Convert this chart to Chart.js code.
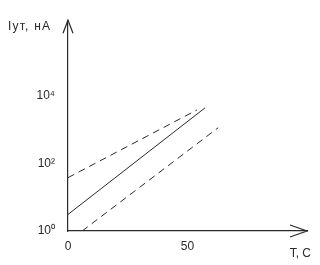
<!DOCTYPE html>
<html>
<head>
<meta charset="utf-8">
<script src="https://cdn.jsdelivr.net/npm/chart.js@4"></script>
<style>
html,body{margin:0;padding:0;background:#fff;}
#wrap{width:320px;height:265px;position:relative;}
</style>
</head>
<body>
<div id="wrap"><canvas id="c"></canvas></div>
<script>
// ---- data ----
const yTitle = 'Iут, нА';
const xTitle = 'T, C';
const xTickValues = [0, 50];
const yTickValues = [1, 100, 10000];
const yTickLabels = ['10⁰', '10²', '10⁴'];
const xMax = 100;
const yMin = 1;
const yMax = 1.75e6;

const upperT = [0, 54];
const upperI = [38, 3860];
const midT = [0, 57.3];
const midI = [3.1, 4420];
const lowerT = [5.9, 62.8];
const lowerI = [1, 1140];

const pts = (xs, ys) => xs.map((x, i) => ({x: x, y: ys[i]}));
const ink = '#2a2a2a';

const axisArrows = {
  id: 'axisArrows',
  afterDraw(chart) {
    const ctx = chart.ctx, a = chart.chartArea;
    ctx.save();
    ctx.strokeStyle = ink;
    ctx.lineWidth = 1.2;
    ctx.beginPath();
    ctx.moveTo(a.left - 5, a.top + 13);
    ctx.lineTo(a.left, a.top);
    ctx.lineTo(a.left + 5, a.top + 13);
    ctx.moveTo(a.right - 17, a.bottom - 6);
    ctx.lineTo(a.right, a.bottom);
    ctx.lineTo(a.right - 17, a.bottom + 6);
    ctx.stroke();
    ctx.fillStyle = ink;
    ctx.font = '12px "Liberation Sans", Arial, sans-serif';
    ctx.textBaseline = 'alphabetic';
    ctx.textAlign = 'left';
    ctx.letterSpacing = '1.2px';
    ctx.fillText(yTitle, 8, 30);
    ctx.letterSpacing = '0px';
    ctx.textAlign = 'right';
    ctx.fillText(xTitle, a.right + 4, a.bottom + 26);
    ctx.restore();
  }
};

new Chart(document.getElementById('c'), {
  type: 'line',
  data: {
    datasets: [
      {data: pts(upperT, upperI), borderColor: ink, borderWidth: 1, borderDash: [7, 5], pointRadius: 0},
      {data: pts(midT, midI), borderColor: ink, borderWidth: 1, pointRadius: 0},
      {data: pts(lowerT, lowerI), borderColor: ink, borderWidth: 1, borderDash: [7, 5], pointRadius: 0}
    ]
  },
  options: {
    responsive: true,
    maintainAspectRatio: false,
    animation: false,
    devicePixelRatio: 1,
    layout: {padding: {left: 0, top: 20, right: 13, bottom: 0}},
    plugins: {legend: {display: false}, tooltip: {enabled: false}, title: {display: false}},
    scales: {
      x: {
        type: 'linear',
        min: 0, max: xMax,
        grid: {display: false, drawTicks: false},
        border: {display: true, color: ink, width: 1.2},
        afterBuildTicks: s => { s.ticks = xTickValues.map(v => ({value: v})); },
        afterFit: s => { s.height = 34; },
        ticks: {color: ink, padding: 8, maxRotation: 0, font: {size: 12, family: '"Liberation Sans", Arial, sans-serif'}}
      },
      y: {
        type: 'logarithmic',
        min: yMin, max: yMax,
        grid: {display: false, drawTicks: false},
        border: {display: true, color: ink, width: 1.2},
        afterBuildTicks: s => { s.ticks = yTickValues.map(v => ({value: v})); },
        afterFit: s => { s.width = 68; },
        ticks: {
          color: ink, padding: 13,
          font: {size: 12, family: '"Liberation Sans", Arial, sans-serif'},
          callback: (v) => { const i = yTickValues.indexOf(v); return i >= 0 ? yTickLabels[i] : ''; }
        }
      }
    }
  },
  plugins: [axisArrows]
});
</script>
</body>
</html>
